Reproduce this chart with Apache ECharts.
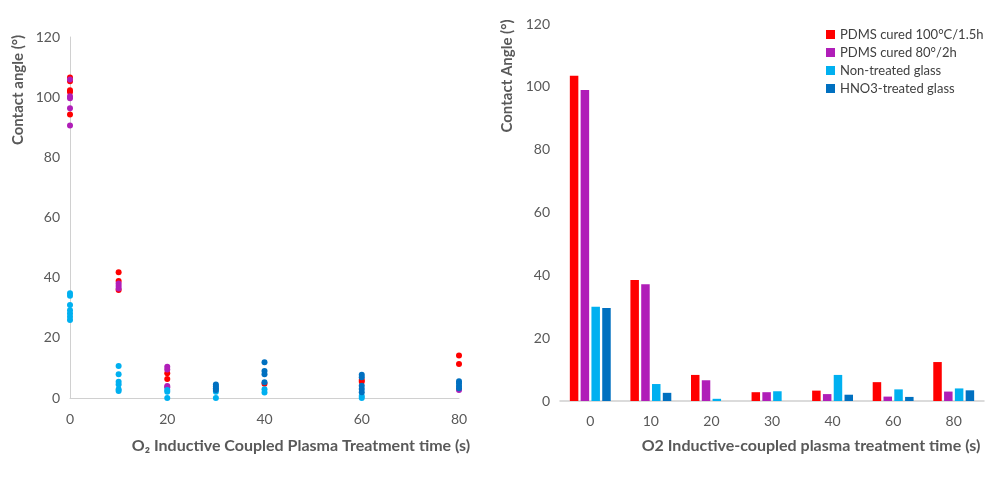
<!DOCTYPE html>
<html lang="en">
<head>
    <meta charset="UTF-8">
    <title>Contact angle vs O2 plasma treatment time</title>
    <script src="https://cdn.jsdelivr.net/npm/echarts@6/dist/echarts.min.js"></script>
    <style>
        html, body { margin: 0; padding: 0; background: #fff; }
        #chart { width: 1000px; height: 499px; }
    </style>
</head>
<body>
    <div id="chart"></div>
    <script>
        // series names / colours
        const seriesNames = ['PDMS cured 100°C/1.5h', 'PDMS cured 80°/2h', 'Non-treated glass', 'HNO3-treated glass'];
        const seriesColors = ['#ff0000', '#b01eb8', '#00b0f0', '#0070c0'];

        // left: individual measurements [time (s), angle]
        const ptsPdms100 = [
            [0, 106.5], [0, 105.3], [0, 102.3], [0, 101.7], [0, 94.2],
            [10, 41.8], [10, 38.9], [10, 35.9],
            [20, 8.2], [20, 6.3],
            [40, 4.7],
            [60, 6.0], [60, 5.4],
            [80, 14.1], [80, 11.3]
        ];
        const ptsPdms80 = [
            [0, 105.9], [0, 100.3], [0, 99.6], [0, 96.3], [0, 90.6],
            [10, 38.1], [10, 37.2], [10, 36.4],
            [20, 10.4], [20, 9.5], [20, 4.0], [20, 3.6],
            [80, 2.7]
        ];
        const ptsGlass = [
            [0, 34.8], [0, 34.0], [0, 30.9], [0, 29.2], [0, 28.1], [0, 27.0], [0, 25.9],
            [10, 10.6], [10, 7.9], [10, 5.4], [10, 4.5], [10, 2.9], [10, 2.3],
            [20, 2.7], [20, 2.1], [20, 0],
            [30, 2.1], [30, 0],
            [40, 2.9], [40, 1.8],
            [60, 0.7], [60, 0]
        ];
        const ptsHno3 = [
            [30, 4.5], [30, 3.8], [30, 3.2], [30, 2.7],
            [40, 11.9], [40, 9.0], [40, 7.9], [40, 5.2],
            [60, 7.7], [60, 6.9], [60, 4.1], [60, 3.0], [60, 1.9],
            [80, 5.6], [80, 4.9], [80, 4.0], [80, 3.2]
        ];

        // right: mean values per treatment time
        const timeCategories = ['0', '10', '20', '30', '40', '60', '80'];
        const barPdms100 = [103.5, 38.5, 8.3, 2.8, 3.3, 6.0, 12.4];
        const barPdms80 = [99.0, 37.2, 6.6, 2.8, 2.2, 1.4, 3.0];
        const barGlass = [30.0, 5.4, 0.7, 3.1, 8.3, 3.7, 4.0];
        const barHno3 = [29.6, 2.6, 0, 0, 2.0, 1.3, 3.4];

        const yTicks = [0, 20, 40, 60, 80, 100, 120];

        const font = 'Lato, "Open Sans", sans-serif';
        const txt = '#595959';
        const axisGray = '#d0d0d0';

        const chart = echarts.init(document.getElementById('chart'));

        const valueY = (gridIndex) => ({
            type: 'value', gridIndex: gridIndex,
            min: yTicks[0], max: yTicks[yTicks.length - 1], interval: 20,
            splitLine: { show: false },
            axisLine: { show: gridIndex === 0, lineStyle: { color: axisGray } },
            axisTick: { show: false },
            axisLabel: { color: txt, fontFamily: font, fontSize: 14, margin: 10 }
        });

        const scatterSeries = [ptsPdms100, ptsPdms80, ptsGlass, ptsHno3].map((pts, i) => ({
            name: seriesNames[i],
            type: 'scatter',
            xAxisIndex: 0, yAxisIndex: 0,
            symbolSize: 6,
            itemStyle: { color: seriesColors[i], opacity: 1 },
            data: pts
        }));

        const barSeries = [barPdms100, barPdms80, barGlass, barHno3].map((vals, i) => ({
            name: seriesNames[i],
            type: 'bar',
            xAxisIndex: 1, yAxisIndex: 1,
            barWidth: 8.5,
            barGap: '27%',
            itemStyle: { color: seriesColors[i] },
            data: vals
        }));

        const option = {
            animation: false,
            textStyle: { fontFamily: font },
            grid: [
                { left: 70, right: 541, top: 37, bottom: 101, outerBoundsMode: 'none', containLabel: false },
                { left: 560, right: 16, top: 24, bottom: 98, outerBoundsMode: 'none', containLabel: false }
            ],
            legend: {
                data: seriesNames,
                orient: 'vertical',
                left: 821, top: 23,
                itemWidth: 9, itemHeight: 9, itemGap: 5,
                icon: 'rect',
                textStyle: { color: '#404040', fontFamily: font, fontSize: 13 }
            },
            xAxis: [
                {
                    type: 'value', gridIndex: 0, min: 0, max: 80, interval: 20,
                    splitLine: { show: false },
                    axisLine: { lineStyle: { color: axisGray } },
                    axisTick: { show: false },
                    axisLabel: { color: txt, fontFamily: font, fontSize: 14, margin: 14 },
                    name: 'O₂ Inductive Coupled Plasma Treatment time (s)',
                    nameLocation: 'middle', nameGap: 40,
                    nameTextStyle: { color: txt, fontFamily: font, fontSize: 16, fontWeight: 'bold', padding: [0, 0, 0, 73] }
                },
                {
                    type: 'category', gridIndex: 1, data: timeCategories,
                    axisLine: { lineStyle: { color: axisGray, width: 1.5 } },
                    axisTick: { show: false },
                    axisLabel: { color: txt, fontFamily: font, fontSize: 14, margin: 13 },
                    name: 'O2 Inductive-coupled plasma treatment time (s)',
                    nameLocation: 'middle', nameGap: 37,
                    nameTextStyle: { color: txt, fontFamily: font, fontSize: 16, fontWeight: 'bold', padding: [0, 0, 0, 78] }
                }
            ],
            yAxis: [valueY(0), valueY(1)],
            graphic: [
                {
                    type: 'text', x: 18, y: 90, rotation: Math.PI / 2,
                    style: { text: 'Contact angle (°)', fill: txt, font: 'bold 15px ' + font, textAlign: 'center', textVerticalAlign: 'middle' }
                },
                {
                    type: 'text', x: 507, y: 76, rotation: Math.PI / 2,
                    style: { text: 'Contact Angle (°)', fill: txt, font: 'bold 15px ' + font, textAlign: 'center', textVerticalAlign: 'middle' }
                }
            ],
            series: scatterSeries.concat(barSeries)
        };

        chart.setOption(option);
    </script>
</body>
</html>
